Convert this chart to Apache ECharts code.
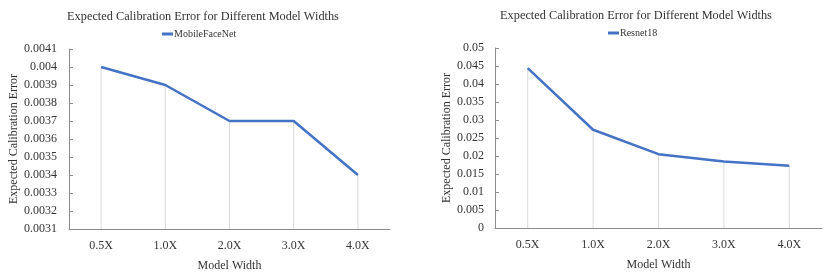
<!DOCTYPE html>
<html><head><meta charset="utf-8">
<script src="https://cdn.jsdelivr.net/npm/echarts@6/dist/echarts.min.js"></script>
<style>html,body{margin:0;padding:0;background:#fff}#c{width:831px;height:273px}</style>
</head><body><div id="c"></div>
<script>
const categories = ['0.5X','1.0X','2.0X','3.0X','4.0X'];
const mobileFaceNet = [0.0040, 0.0039, 0.0037, 0.0037, 0.0034];
const resnet18 = [0.0444, 0.0273, 0.0205, 0.0185, 0.0173];
const titleText = 'Expected Calibration Error for Different Model Widths';
const yName = 'Expected Calibration Error';
const xName = 'Model Width';

const font = 'Liberation Serif';
const txt = '#333333';
const axisCol = '#8c8c8c';
const lineCol = '#4472C4';

function xAxis(gi){
  return {type:'category', gridIndex:gi, data:categories, boundaryGap:true,
    name:xName, nameLocation:'middle', nameGap:31,
    nameTextStyle:{fontFamily:font,fontSize:12,color:txt},
    axisLine:{lineStyle:{color:axisCol,width:1}},
    axisTick:{inside:true,length:4,alignWithLabel:false,lineStyle:{color:axisCol}},
    axisLabel:{fontFamily:font,fontSize:12,color:txt,margin:11},
    splitLine:{show:false}};
}
function yAxis(gi,min,max,interval,dec,gap,margin){
  return {type:'value', gridIndex:gi, min:min, max:max, interval:interval,
    name:yName, nameLocation:'middle', nameGap:gap,
    nameTextStyle:{fontFamily:font,fontSize:12,color:txt},
    axisLine:{show:true,lineStyle:{color:axisCol,width:1}},
    axisTick:{show:true,inside:true,length:4,lineStyle:{color:axisCol}},
    axisLabel:{fontFamily:font,fontSize:12,color:txt,margin:margin,
      formatter:v=>String(+v.toFixed(dec))},
    splitLine:{show:false}};
}
function series(gi,name,data){
  return [
    {type:'bar', xAxisIndex:gi, yAxisIndex:gi, data:data, barWidth:1, z:1,
     itemStyle:{color:'#d9d9d9'}, silent:true, legendHoverLink:false},
    {type:'line', name:name, xAxisIndex:gi, yAxisIndex:gi, data:data, z:3,
     showSymbol:false, symbol:'none', lineStyle:{color:lineCol,width:2.5}, itemStyle:{color:lineCol}}
  ];
}
const chart = echarts.init(document.getElementById('c'), null, {renderer:'canvas'});
chart.setOption({
  animation:false,
  backgroundColor:'#fff',
  title:[
    {text:titleText, left:198, top:6, textAlign:'center', textStyle:{fontFamily:font,fontSize:12.3,fontWeight:'normal',color:txt}},
    {text:titleText, left:631, top:5, textAlign:'center', textStyle:{fontFamily:font,fontSize:12.3,fontWeight:'normal',color:txt}}
  ],
  legend:[
    {data:['MobileFaceNet'], left:162, top:29, padding:0, icon:'rect', itemWidth:11, itemHeight:3, itemGap:2,
     textStyle:{fontFamily:font,fontSize:10,color:txt,padding:[0,0,0,-4]}},
    {data:['Resnet18'], left:608, top:28, padding:0, icon:'rect', itemWidth:11, itemHeight:3, itemGap:2,
     textStyle:{fontFamily:font,fontSize:10,color:txt,padding:[0,0,0,-4]}}
  ],
  grid:[
    {left:69, right:441, top:49, bottom:44, containLabel:false, outerBoundsMode:'none'},
    {left:495, right:9, top:48, bottom:45, containLabel:false, outerBoundsMode:'none'}
  ],
  xAxis:[xAxis(0), xAxis(1)],
  yAxis:[yAxis(0,0.0031,0.0041,0.0001,4,49,12), yAxis(1,0,0.05,0.005,3,40,11)],
  series:[...series(0,'MobileFaceNet',mobileFaceNet), ...series(1,'Resnet18',resnet18)]
});
</script></body></html>
